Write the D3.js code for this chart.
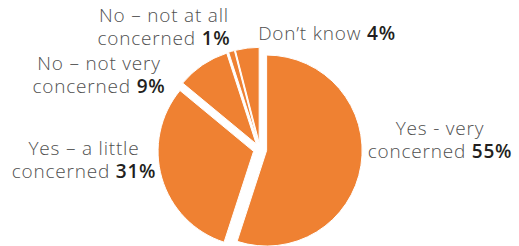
<!DOCTYPE html>
<html>
<head>
<meta charset="utf-8">
<script src="https://cdn.jsdelivr.net/npm/d3@7"></script>
<style>
  html, body { margin: 0; padding: 0; background: #fff; }
  svg { display: block; }
  text { font-family: "Open Sans", sans-serif; font-size: 19px; font-weight: 300; fill: #505050; letter-spacing: 0.8px; }
  tspan.pct { font-weight: 600; fill: #231f20; }
</style>
</head>
<body>
<div id="chart"></div>
<script>
const categories = ["Yes - very concerned", "Yes – a little concerned", "No – not very concerned", "No – not at all concerned", "Don’t know"];
const values = [55, 31, 9, 1, 4];
const labelLines = [
    ["Yes - very", "concerned"],
    ["Yes – a little", "concerned"],
    ["No – not very", "concerned"],
    ["No – not at all", "concerned"],
    ["Don’t know"]
];

// label anchor points (text centre, first baseline)
const labelPos = [[440, 135], [84, 155], [99, 70], [164, 22], [327, 40]];

const width = 519, height = 246;
const cx = 260, cy = 149.5, radius = 95.5, explode = 6.7;
const lineHeight = 23;

let draw = () => {
    const svg = d3.select("#chart").append("svg")
        .attr("width", width)
        .attr("height", height);

    const pie = d3.pie().sort(null).value(d => d);
    const arc = d3.arc().innerRadius(0).outerRadius(radius);
    const arcs = pie(values);

    svg.append("g")
        .attr("transform", `translate(${cx},${cy})`)
        .selectAll("path")
        .data(arcs)
        .join("path")
            .attr("d", arc)
            .attr("fill", "#ef8132")
            .attr("stroke", "#fff")
            .attr("stroke-width", 1)
            .attr("transform", d => {
                const a = (d.startAngle + d.endAngle) / 2;
                return `translate(${Math.sin(a) * explode},${-Math.cos(a) * explode})`;
            });

    // one text element per label line, the last line carries the bold value
    const rows = arcs.flatMap((d, i) => labelLines[i].map((line, j) => ({
        line, i, j, last: j === labelLines[i].length - 1, value: d.data
    })));

    svg.append("g")
        .selectAll("text")
        .data(rows)
        .join("text")
            .attr("text-anchor", "middle")
            .attr("x", r => labelPos[r.i][0])
            .attr("y", r => labelPos[r.i][1] + r.j * lineHeight)
            .each(function(r) {
                const t = d3.select(this);
                t.append("tspan").text(r.last ? r.line + " " : r.line);
                if (r.last) t.append("tspan").attr("class", "pct").text(r.value + "%");
            });
};

window.onload = draw;
</script>
</body>
</html>
